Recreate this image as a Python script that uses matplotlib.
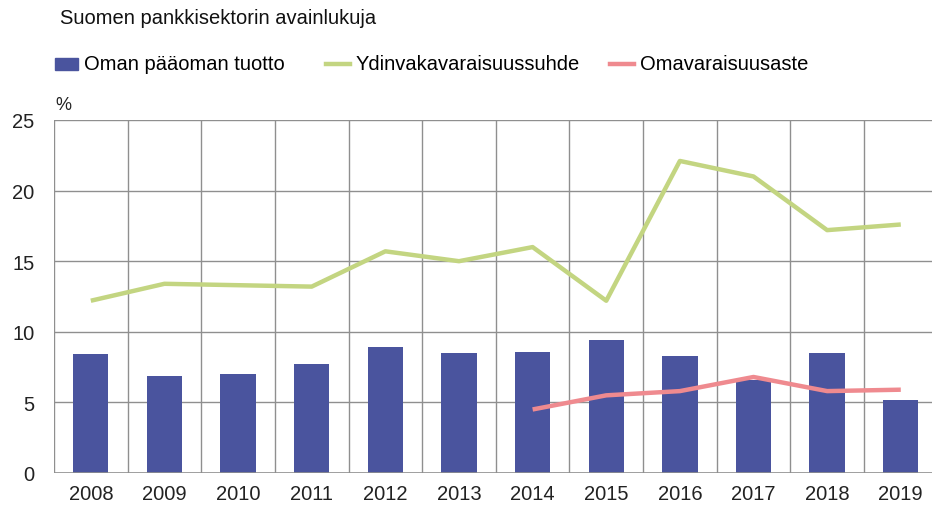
import matplotlib.pyplot as plt
import numpy as np

plt.rcParams['font.family'] = ['Liberation Sans', 'DejaVu Sans']

years = ['2008', '2009', '2010', '2011', '2012', '2013',
         '2014', '2015', '2016', '2017', '2018', '2019']
oman_paaoman_tuotto = [8.4, 6.9, 7.0, 7.7, 8.9, 8.5, 8.6, 9.4, 8.3, 6.6, 8.5, 5.2]
ydinvakavaraisuussuhde = [12.2, 13.4, 13.3, 13.2, 15.7, 15.0, 16.0, 12.2, 22.1, 21.0, 17.2, 17.6]
omavaraisuusaste_years = ['2014', '2015', '2016', '2017', '2018', '2019']
omavaraisuusaste = [4.5, 5.5, 5.8, 6.8, 5.8, 5.9]

blue = '#4a549e'
green = '#c3d581'
red = '#ef8a8f'
grid = '#8f8f8f'

fig = plt.figure(figsize=(9.32, 5.10), dpi=100)
ax = fig.add_axes([54 / 932, 36 / 510, 883.6 / 932, 353 / 510])

x = np.arange(len(years))
ax.bar(x, oman_paaoman_tuotto, width=0.48, color=blue, zorder=2)
ax.plot(x, ydinvakavaraisuussuhde, color=green, lw=3.2, zorder=3,
        solid_capstyle='butt')
xr = [years.index(y) for y in omavaraisuusaste_years]
ax.plot(xr, omavaraisuusaste, color=red, lw=3.2, zorder=4,
        solid_capstyle='butt')

ax.set_xlim(-0.5, len(years) - 0.5)
ax.set_ylim(0, 25)
ax.set_yticks([0, 5, 10, 15, 20, 25])
ax.set_xticks(x)
ax.set_xticklabels(years)
ax.tick_params(axis='both', length=0, labelsize=14.5, colors='#222222')
ax.tick_params(axis='x', pad=8)
ax.tick_params(axis='y', pad=14)

# gridlines: horizontal at ticks, vertical at category borders
for yv in [5, 10, 15, 20, 25]:
    ax.axhline(yv, color=grid, lw=1, zorder=1)
for b in np.arange(-0.5, len(years) - 0.5, 1.0):
    ax.axvline(b, color=grid, lw=1, zorder=1)
ax.axhline(0, color=grid, lw=1.2, zorder=5)
for s in ax.spines.values():
    s.set_visible(False)

fig.text(60 / 932, 1 - 18 / 510, 'Suomen pankkisektorin avainlukuja',
         fontsize=14.5, va='center', ha='left', color='#111111')
fig.text(55 / 932, 1 - 106 / 510, '%', fontsize=13, va='center', ha='left',
         color='#222222')

# legend row
ly = 1 - 65 / 510
fig.patches.append(plt.Rectangle((55 / 932, ly - 6 / 510), 23 / 932, 12 / 510,
                                 transform=fig.transFigure, color=blue))
fig.text(84 / 932, ly, 'Oman pääoman tuotto', fontsize=14.5, va='center', ha='left')
fig.add_artist(plt.Line2D([326 / 932, 350 / 932], [ly, ly], color=green, lw=3.2,
                          transform=fig.transFigure))
fig.text(356 / 932, ly, 'Ydinvakavaraisuussuhde', fontsize=14.5, va='center', ha='left')
fig.add_artist(plt.Line2D([610 / 932, 634 / 932], [ly, ly], color=red, lw=3.2,
                          transform=fig.transFigure))
fig.text(640 / 932, ly, 'Omavaraisuusaste', fontsize=14.5, va='center', ha='left')

fig.savefig('out.png', dpi=100)
